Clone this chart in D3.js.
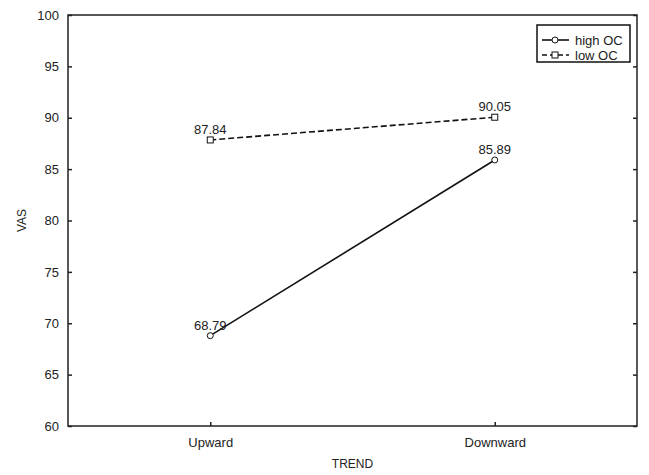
<!DOCTYPE html>
<html>
<head>
<meta charset="utf-8">
<script src="https://cdn.jsdelivr.net/npm/d3@7"></script>
<style>
  body { margin: 0; background: #fff; }
  text { font-family: "Liberation Sans", Arial, sans-serif; fill: #222; }
</style>
</head>
<body>
<script>
const categories = ['Upward', 'Downward'];
const highOC = [68.79, 85.89];
const lowOC = [87.84, 90.05];
const yTicks = [60, 65, 70, 75, 80, 85, 90, 95, 100];

const W = 649, H = 475;
const margin = {left: 68, right: 12, top: 15, bottom: 49};

const svg = d3.select(document.body).append('svg')
  .attr('width', W)
  .attr('height', H);

const x = d3.scalePoint()
  .domain(categories)
  .range([margin.left, W - margin.right])
  .padding(0.5);

const y = d3.scaleLinear()
  .domain([60, 100])
  .range([H - margin.bottom, margin.top]);

const x0 = margin.left, x1 = W - margin.right;
const y0 = H - margin.bottom, y1 = margin.top;

// frame
svg.append('rect')
  .attr('x', x0).attr('y', y1)
  .attr('width', x1 - x0).attr('height', y0 - y1)
  .attr('fill', 'none').attr('stroke', '#222').attr('stroke-width', 1.5);

// left axis, ticks point inward
const yAxis = svg.append('g')
  .attr('transform', `translate(${x0},0)`)
  .call(d3.axisLeft(y).tickValues(yTicks).tickSizeInner(-4).tickSizeOuter(0).tickPadding(9));
yAxis.select('.domain').remove();
yAxis.selectAll('line').attr('stroke', '#222').attr('stroke-width', 1.5);
yAxis.selectAll('text').style('font-size', '13px').style('font-family', '"Liberation Sans", Arial, sans-serif').attr('fill', '#222');

// right ticks
const yRight = svg.append('g')
  .attr('transform', `translate(${x1},0)`)
  .call(d3.axisRight(y).tickValues(yTicks).tickSizeInner(-4).tickSizeOuter(0).tickFormat(''));
yRight.select('.domain').remove();
yRight.selectAll('line').attr('stroke', '#222').attr('stroke-width', 1.5);

// bottom axis
const xAxis = svg.append('g')
  .attr('transform', `translate(0,${y0})`)
  .call(d3.axisBottom(x).tickSizeInner(-4).tickSizeOuter(0).tickPadding(12));
xAxis.select('.domain').remove();
xAxis.selectAll('line').attr('stroke', '#222').attr('stroke-width', 1.5);
xAxis.selectAll('text').style('font-size', '13px').style('font-family', '"Liberation Sans", Arial, sans-serif').attr('fill', '#222');

// axis titles
svg.append('text')
  .attr('x', (x0 + x1) / 2).attr('y', 468)
  .attr('text-anchor', 'middle')
  .style('font-size', '12px')
  .text('TREND');
svg.append('text')
  .attr('transform', `translate(26,${(y0 + y1) / 2}) rotate(-90)`)
  .attr('text-anchor', 'middle')
  .style('font-size', '12px')
  .text('VAS');

const line = d3.line()
  .x((d, i) => x(categories[i]))
  .y(d => y(d));

// low OC dashed
svg.append('path')
  .datum(lowOC)
  .attr('d', line)
  .attr('fill', 'none').attr('stroke', '#111')
  .attr('stroke-width', 1.6).attr('stroke-dasharray', '6,3');

// high OC solid
svg.append('path')
  .datum(highOC)
  .attr('d', line)
  .attr('fill', 'none').attr('stroke', '#111')
  .attr('stroke-width', 1.6);

svg.selectAll('.sq')
  .data(lowOC).enter().append('rect')
  .attr('x', (d, i) => x(categories[i]) - 3)
  .attr('y', d => y(d) - 3)
  .attr('width', 6).attr('height', 6)
  .attr('fill', '#fff').attr('stroke', '#111').attr('stroke-width', 1);

svg.selectAll('.ci')
  .data(highOC).enter().append('circle')
  .attr('cx', (d, i) => x(categories[i]))
  .attr('cy', d => y(d))
  .attr('r', 3)
  .attr('fill', '#fff').attr('stroke', '#111').attr('stroke-width', 1);

// value labels
[highOC, lowOC].forEach(series => {
  svg.selectAll(null)
    .data(series).enter().append('text')
    .attr('x', (d, i) => x(categories[i]))
    .attr('y', d => y(d) - 6)
    .attr('text-anchor', 'middle')
    .style('font-size', '13px')
    .text(d => d.toFixed(2));
});

// legend
const lg = svg.append('g').attr('transform', 'translate(537,25)');
lg.append('rect')
  .attr('width', 93).attr('height', 37)
  .attr('fill', '#fff').attr('stroke', '#111').attr('stroke-width', 1.5);
lg.append('line').attr('x1', 5).attr('x2', 32).attr('y1', 15).attr('y2', 15)
  .attr('stroke', '#111').attr('stroke-width', 1.6);
lg.append('circle').attr('cx', 18).attr('cy', 15).attr('r', 3)
  .attr('fill', '#fff').attr('stroke', '#111');
lg.append('line').attr('x1', 5).attr('x2', 32).attr('y1', 30).attr('y2', 30)
  .attr('stroke', '#111').attr('stroke-width', 1.6).attr('stroke-dasharray', '5,3');
lg.append('rect').attr('x', 15).attr('y', 27).attr('width', 6).attr('height', 6)
  .attr('fill', '#fff').attr('stroke', '#111');
lg.append('text').attr('x', 38).attr('y', 20).style('font-size', '13px').text('high OC');
lg.append('text').attr('x', 38).attr('y', 35).style('font-size', '13px').text('low OC');
</script>
</body>
</html>
